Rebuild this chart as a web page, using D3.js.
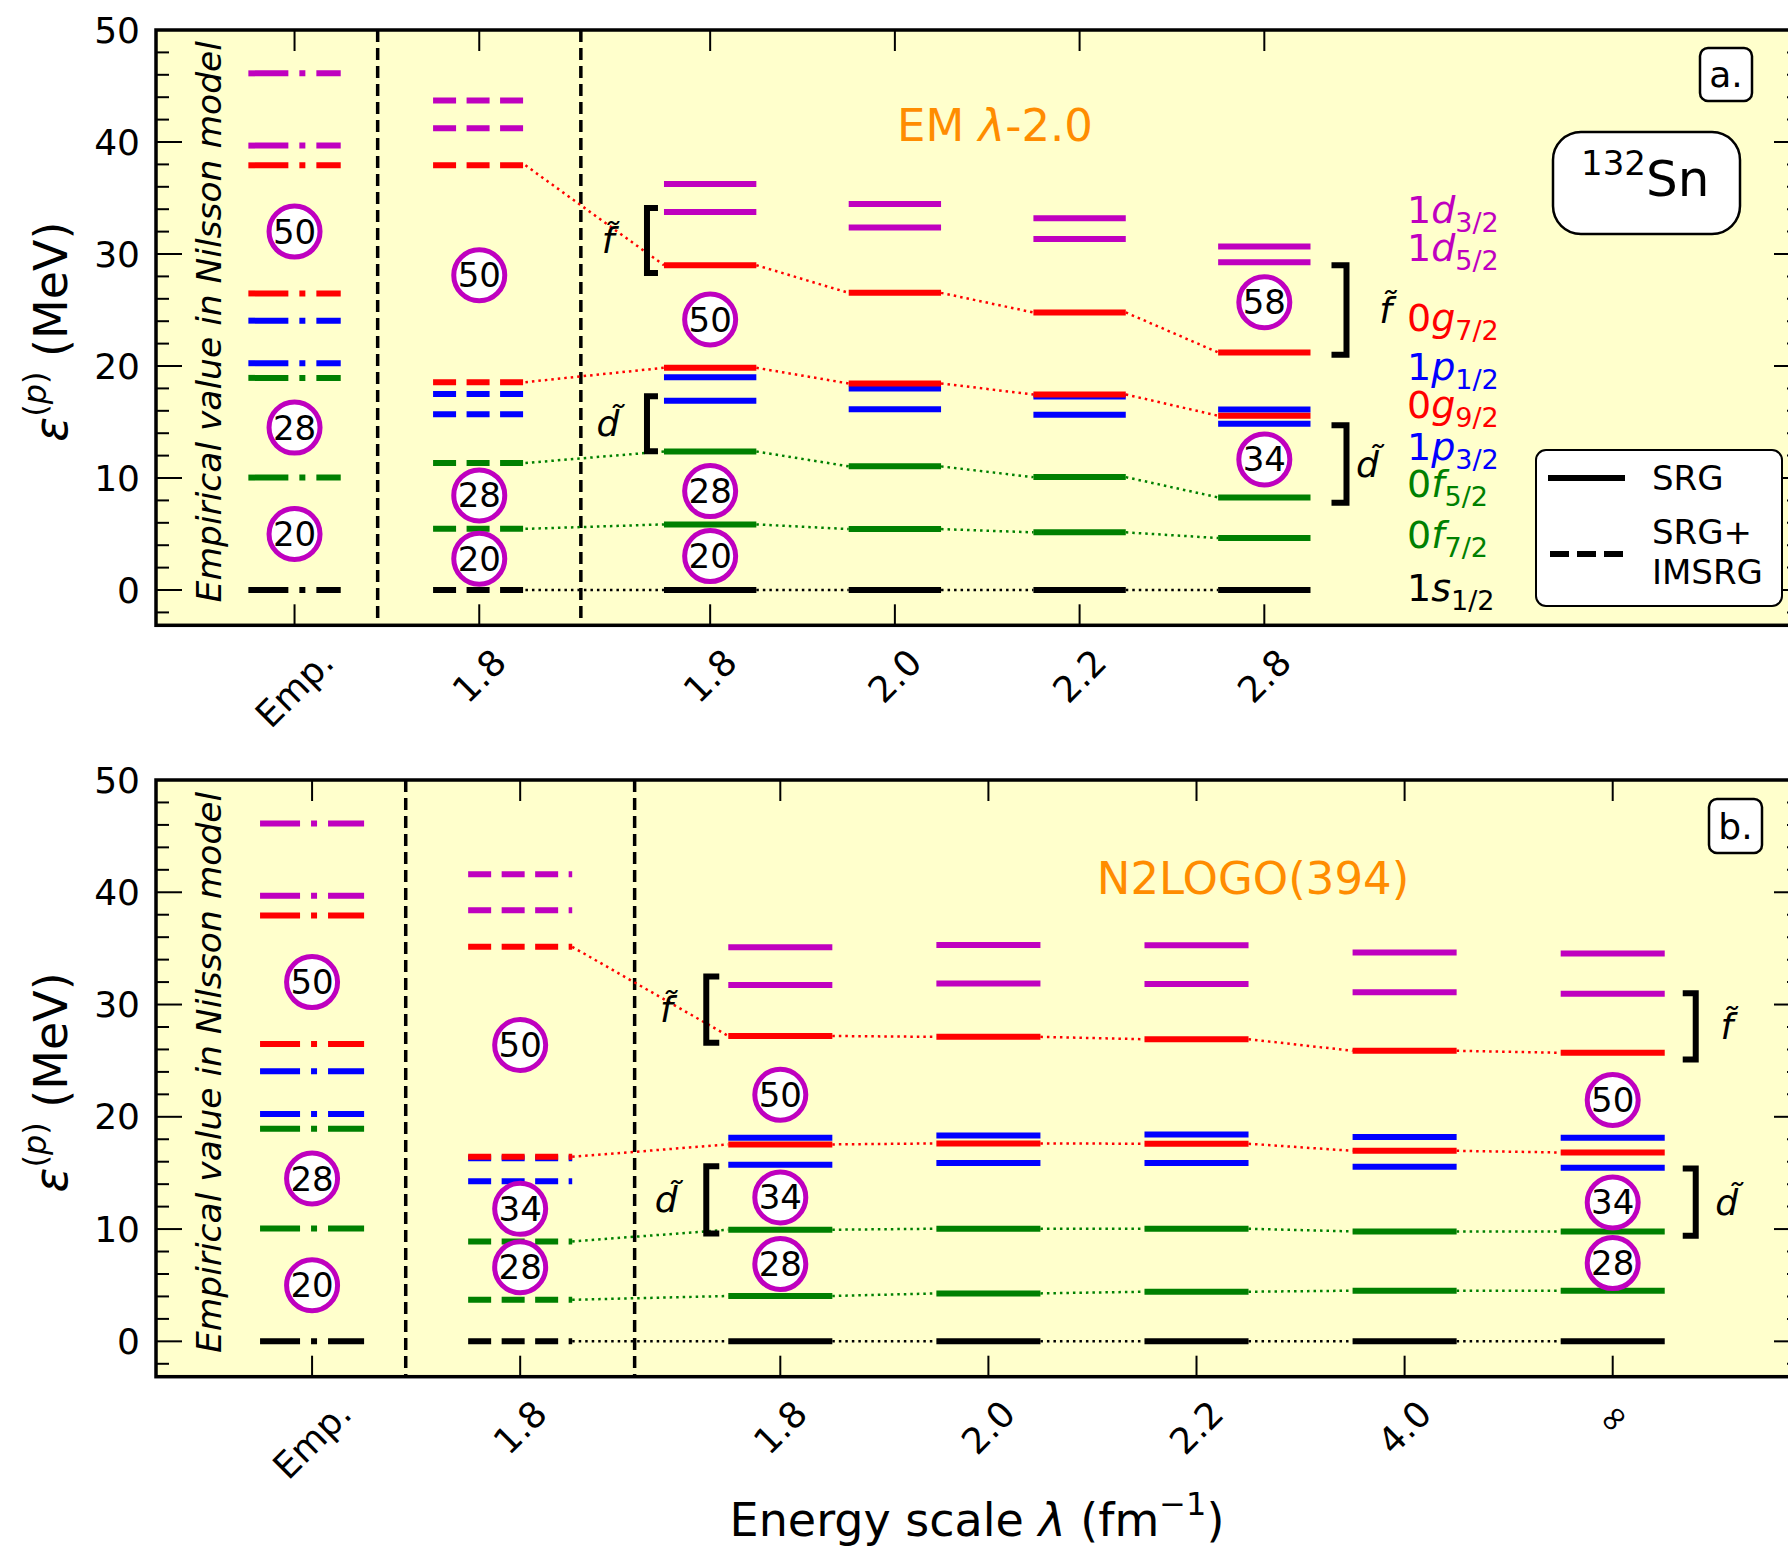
<!DOCTYPE html>
<html><head><meta charset="utf-8">
<script src="https://d3js.org/d3.v7.min.js"></script>
<style>
body{margin:0;background:#fff}
svg{display:block}
text{font-family:"DejaVu Sans",sans-serif}
</style>
</head><body>
<svg id="chart" width="1788" height="1547"></svg>
<script>
// ---------------- DATA ----------------
const topColumnLabels = ["Emp.", "1.8", "1.8", "2.0", "2.2", "2.8"];
const topColumnX = [0, 1, 2.25, 3.25, 4.25, 5.25];
const topColumnKind = ["emp", "imsrg", "srg", "srg", "srg", "srg"];

const bottomColumnLabels = ["Emp.", "1.8", "1.8", "2.0", "2.2", "4.0", "\u221E"];
const bottomColumnX = [0, 1, 2.25, 3.25, 4.25, 5.25, 6.25];
const bottomColumnKind = ["emp", "imsrg", "srg", "srg", "srg", "srg", "srg"];

const orbitals = ["1s1/2", "0f7/2", "0f5/2", "1p3/2", "1p1/2", "0g9/2", "0g7/2", "1d5/2", "1d3/2"];
const orbitalColors = ["#000000", "#008000", "#008000", "#0000ff", "#0000ff", "#ff0000", "#ff0000", "#bf00bf", "#bf00bf"];
const connectedOrbitals = ["1s1/2", "0f7/2", "0f5/2", "0g9/2", "0g7/2"];

// single-particle energies (MeV), one row per orbital, one value per column
const topLevels = [
  [0, 0, 0, 0, 0, 0],
  [10.04, 5.46, 5.86, 5.44, 5.15, 4.64],
  [18.94, 11.34, 12.37, 11.04, 10.08, 8.27],
  [20.25, 15.7, 16.9, 16.15, 15.65, 14.84],
  [24.05, 17.5, 19.0, 18.0, 17.28, 16.12],
  [26.48, 18.56, 19.84, 18.44, 17.46, 15.56],
  [37.92, 37.92, 29.0, 26.53, 24.78, 21.21],
  [39.68, 41.23, 33.76, 32.36, 31.35, 29.27],
  [46.13, 43.7, 36.26, 34.47, 33.19, 30.67]
];
const bottomLevels = [
  [0, 0, 0, 0, 0, 0, 0],
  [10.04, 3.7, 4.04, 4.27, 4.42, 4.51, 4.51],
  [18.94, 8.9, 9.94, 10.03, 10.03, 9.79, 9.79],
  [20.25, 14.26, 15.73, 15.88, 15.88, 15.55, 15.46],
  [24.05, 16.3, 18.13, 18.34, 18.43, 18.19, 18.13],
  [26.48, 16.44, 17.54, 17.63, 17.6, 16.97, 16.82],
  [37.92, 35.14, 27.2, 27.12, 26.91, 25.88, 25.7],
  [39.68, 38.4, 31.75, 31.87, 31.84, 31.1, 30.95],
  [46.13, 41.6, 35.1, 35.3, 35.28, 34.63, 34.54]
];

// magic-number markers: [column index, number, energy]
const topMagic = [[0, 50, 32.0], [0, 28, 14.5], [0, 20, 5.0],
                  [1, 50, 28.1], [1, 28, 8.45], [1, 20, 2.8],
                  [2, 50, 24.15], [2, 28, 8.83], [2, 20, 3.03],
                  [5, 58, 25.7], [5, 34, 11.66]];
const bottomMagic = [[0, 50, 32.0], [0, 28, 14.5], [0, 20, 5.0],
                     [1, 50, 26.4], [1, 34, 11.8], [1, 28, 6.6],
                     [2, 50, 21.96], [2, 34, 12.82], [2, 28, 6.88],
                     [6, 50, 21.5], [6, 34, 12.37], [6, 28, 6.97]];

// pseudo-spin brackets: [column index, side, low, high, label]
const topBrackets = [[2, "left", 28.3, 34.1, "f"], [2, "left", 12.4, 17.3, "d"],
                     [5, "right", 21.0, 29.0, "f"], [5, "right", 7.8, 14.7, "d"]];
const bottomBrackets = [[2, "left", 26.6, 32.5, "f"], [2, "left", 9.6, 15.6, "d"],
                        [6, "right", 25.1, 31.0, "f"], [6, "right", 9.4, 15.4, "d"]];

const orbitalLabelEnergy = [0.2, 4.9, 9.5, 12.8, 19.95, 16.5, 24.3, 30.5, 33.9];

const yTickValues = [0, 10, 20, 30, 40, 50];

// ---------------- DRAWING ----------------
const svg = d3.select("#chart");

const panels = [
  {id: "a", top: 30, bottom: 625.3, xDomain: [-0.75, 8.15], labels: topColumnLabels, colX: topColumnX,
   kinds: topColumnKind, levels: topLevels, magic: topMagic, brackets: topBrackets,
   title: "EM", titleX: 995, titleY: 125, tag: "a.", tagBox: [1700, 48, 52, 53],
   bracketStyle: {left: {v: -17, serif: 11, lab: -56}, right: {v: 36, serif: 15, labF: 75, labD: 57}}},
  {id: "b", top: 780, bottom: 1376.7, xDomain: [-0.75, 7.15], labels: bottomColumnLabels, colX: bottomColumnX,
   kinds: bottomColumnKind, levels: bottomLevels, magic: bottomMagic, brackets: bottomBrackets,
   title: "N2LOGO(394)", titleX: 1253, titleY: 878, tag: "b.", tagBox: [1709, 799, 53, 54],
   bracketStyle: {left: {v: -22, serif: 13, lab: -62}, right: {v: 31, serif: 13, labF: 62, labD: 62}}}
];

const dashFor = {emp: "40,11,6,11", imsrg: "23,10.5", srg: null};

panels.forEach(p => {
  const left = 156, right = 1800;
  const x = d3.scaleLinear().domain(p.xDomain).range([left, right]);
  const y = d3.scaleLinear().domain([-3.15, 50]).range([p.bottom, p.top]);
  const g = svg.append("g");
  const halfW = x(0.25) - x(0);

  // background
  g.append("rect").attr("x", left).attr("y", p.top).attr("width", right - left).attr("height", p.bottom - p.top)
    .attr("fill", "#ffffcc");

  // separator dashed lines
  [0.45, 1.55].forEach(v => {
    g.append("line").attr("x1", x(v)).attr("x2", x(v)).attr("y1", p.top).attr("y2", p.bottom)
      .attr("stroke", "#000").attr("stroke-width", 3.5).attr("stroke-dasharray", "12,6");
  });

  // empirical text
  g.append("text").attr("transform", `translate(209,${y(23.95)}) rotate(-90)`)
    .attr("text-anchor", "middle").attr("dominant-baseline", "central")
    .attr("font-size", 34.5).attr("font-style", "italic").text("Empirical value in Nilsson model");

  // dotted connectors
  connectedOrbitals.forEach(o => {
    const oi = orbitals.indexOf(o);
    for (let c = 1; c < p.colX.length - 1; c++) {
      g.append("line")
        .attr("x1", x(p.colX[c]) + halfW).attr("y1", y(p.levels[oi][c]))
        .attr("x2", x(p.colX[c + 1]) - halfW).attr("y2", y(p.levels[oi][c + 1]))
        .attr("stroke", orbitalColors[oi]).attr("stroke-width", 2.5).attr("stroke-dasharray", "2.5,4");
    }
  });

  // levels
  orbitals.forEach((o, oi) => {
    p.colX.forEach((cx, c) => {
      const ln = g.append("line")
        .attr("x1", x(cx) - halfW).attr("x2", x(cx) + halfW)
        .attr("y1", y(p.levels[oi][c])).attr("y2", y(p.levels[oi][c]))
        .attr("stroke", orbitalColors[oi]).attr("stroke-width", 6);
      const d = dashFor[p.kinds[c]];
      if (d) ln.attr("stroke-dasharray", d);
    });
  });

  // magic-number circles
  p.magic.forEach(([c, n, e]) => {
    const cx = x(p.colX[c]), cy = y(e);
    g.append("circle").attr("cx", cx).attr("cy", cy).attr("r", 25.5)
      .attr("fill", "#fff").attr("stroke", "#bf00bf").attr("stroke-width", 5);
    g.append("text").attr("x", cx).attr("y", cy).attr("text-anchor", "middle").attr("dominant-baseline", "central")
      .attr("font-size", 34).text(n);
  });

  // brackets
  p.brackets.forEach(([c, side, lo, hi, lab]) => {
    const st = p.bracketStyle[side];
    const y1 = y(hi), y2 = y(lo);
    let vx, sx, lx;
    if (side === "left") {
      const bl = x(p.colX[c]) - halfW;
      vx = bl + st.v; sx = vx + st.serif; lx = bl + st.lab;
    } else {
      const br = x(p.colX[c]) + halfW;
      vx = br + st.v; sx = vx - st.serif; lx = br + (lab === "f" ? st.labF : st.labD);
    }
    g.append("path").attr("d", `M${sx},${y1} L${vx},${y1} L${vx},${y2} L${sx},${y2}`)
      .attr("fill", "none").attr("stroke", "#000").attr("stroke-width", 6);
    g.append("text").attr("x", lx).attr("y", (y1 + y2) / 2).attr("text-anchor", "middle")
      .attr("dominant-baseline", "central").attr("font-size", 36).attr("font-style", "italic")
      .text(lab + "\u0303");
  });

  // title
  const t = g.append("text").attr("x", p.titleX).attr("y", p.titleY).attr("text-anchor", "middle")
    .attr("dominant-baseline", "central").attr("font-size", 45).attr("fill", "#ff8c00");
  if (p.id === "a") {
    t.append("tspan").text("EM ");
    t.append("tspan").attr("font-style", "italic").text("\u03BB");
    t.append("tspan").text("-2.0");
  } else t.text(p.title);

  // tag box
  const [bx, by, bw, bh] = p.tagBox;
  g.append("rect").attr("x", bx).attr("y", by).attr("width", bw).attr("height", bh).attr("rx", 8)
    .attr("fill", "#fff").attr("stroke", "#000").attr("stroke-width", 2.5);
  g.append("text").attr("x", bx + bw / 2).attr("y", by + bh / 2).attr("text-anchor", "middle")
    .attr("dominant-baseline", "central").attr("font-size", 36).text(p.tag);

  // ticks
  const tk = g.append("g").attr("stroke", "#000").attr("stroke-width", 2);
  p.colX.forEach(cx => {
    tk.append("line").attr("x1", x(cx)).attr("x2", x(cx)).attr("y1", p.bottom).attr("y2", p.bottom - 21);
    tk.append("line").attr("x1", x(cx)).attr("x2", x(cx)).attr("y1", p.top).attr("y2", p.top + 21);
  });
  d3.range(-2, 50, 2).forEach(v => {
    const major = v % 10 === 0;
    const L = major ? 26 : 13;
    tk.append("line").attr("x1", left).attr("x2", left + L).attr("y1", y(v)).attr("y2", y(v));
    tk.append("line").attr("x1", right).attr("x2", right - L).attr("y1", y(v)).attr("y2", y(v));
  });

  // frame
  g.append("rect").attr("x", left).attr("y", p.top).attr("width", right - left).attr("height", p.bottom - p.top)
    .attr("fill", "none").attr("stroke", "#000").attr("stroke-width", 3.5);

  // y tick labels
  yTickValues.forEach(v => {
    g.append("text").attr("x", 140).attr("y", y(v)).attr("text-anchor", "end").attr("dominant-baseline", "central")
      .attr("font-size", 36).text(v);
  });

  // x tick labels rotated 45
  p.labels.forEach((lab, i) => {
    const tt = g.append("text").attr("font-size", 36).attr("text-anchor", "middle")
      .attr("dominant-baseline", "central").text(lab);
    const bb = tt.node().getBBox();
    const h = (bb.width + bb.height) / Math.SQRT2;
    const cy = p.bottom + 16 + h / 2;
    tt.attr("transform", `translate(${x(p.colX[i])},${cy}) rotate(-45)`);
  });

  // y label
  const yl = g.append("text").attr("transform", `translate(51,${(p.top + p.bottom) / 2 + 4}) rotate(-90)`)
    .attr("text-anchor", "middle").attr("dominant-baseline", "central").attr("font-size", 46);
  yl.append("tspan").attr("font-style", "italic").text("\u03B5");
  yl.append("tspan").attr("font-size", 32).attr("dy", -16).text("(");
  yl.append("tspan").attr("font-size", 32).attr("font-style", "italic").text("p");
  yl.append("tspan").attr("font-size", 32).text(")");
  yl.append("tspan").attr("dy", 16).text(" (MeV)");

  // top-panel extras
  if (p.id === "a") {
    // orbital labels
    orbitals.forEach((o, oi) => {
      const lt = g.append("text").attr("x", 1407).attr("y", y(orbitalLabelEnergy[oi]) + 13)
        .attr("font-size", 38).attr("fill", orbitalColors[oi]);
      lt.append("tspan").text(o[0]);
      lt.append("tspan").attr("font-style", "italic").text(o[1]);
      lt.append("tspan").attr("font-size", 27).attr("dy", 9).text(o.slice(2));
    });
    // nucleus box
    g.append("rect").attr("x", 1553).attr("y", 132).attr("width", 187).attr("height", 102).attr("rx", 28)
      .attr("fill", "#fff").attr("stroke", "#000").attr("stroke-width", 2.5);
    const nt = g.append("text").attr("x", 1581).attr("y", 196).attr("font-size", 50);
    nt.append("tspan").attr("font-size", 34).attr("dy", -21).text("132");
    nt.append("tspan").attr("dy", 21).text("Sn");
    // legend
    g.append("rect").attr("x", 1536).attr("y", 450).attr("width", 246).attr("height", 156).attr("rx", 10)
      .attr("fill", "#fff").attr("stroke", "#000").attr("stroke-width", 2);
    g.append("line").attr("x1", 1548).attr("x2", 1625).attr("y1", 478).attr("y2", 478)
      .attr("stroke", "#000").attr("stroke-width", 6);
    g.append("line").attr("x1", 1550).attr("x2", 1623).attr("y1", 554).attr("y2", 554)
      .attr("stroke", "#000").attr("stroke-width", 6).attr("stroke-dasharray", "19,8");
    [["SRG", 478], ["SRG+", 532], ["IMSRG", 572]].forEach(([s, yy]) => {
      g.append("text").attr("x", 1652).attr("y", yy).attr("dominant-baseline", "central")
        .attr("font-size", 34).text(s);
    });
  }
});

// x axis label
const xl = svg.append("text").attr("x", 977).attr("y", 1520).attr("text-anchor", "middle")
  .attr("dominant-baseline", "central").attr("font-size", 46);
xl.append("tspan").text("Energy scale ");
xl.append("tspan").attr("font-style", "italic").text("\u03BB");
xl.append("tspan").text(" (fm");
xl.append("tspan").attr("font-size", 32).attr("dy", -16).text("\u22121");
xl.append("tspan").attr("dy", 16).text(")");
</script>
</body></html>
